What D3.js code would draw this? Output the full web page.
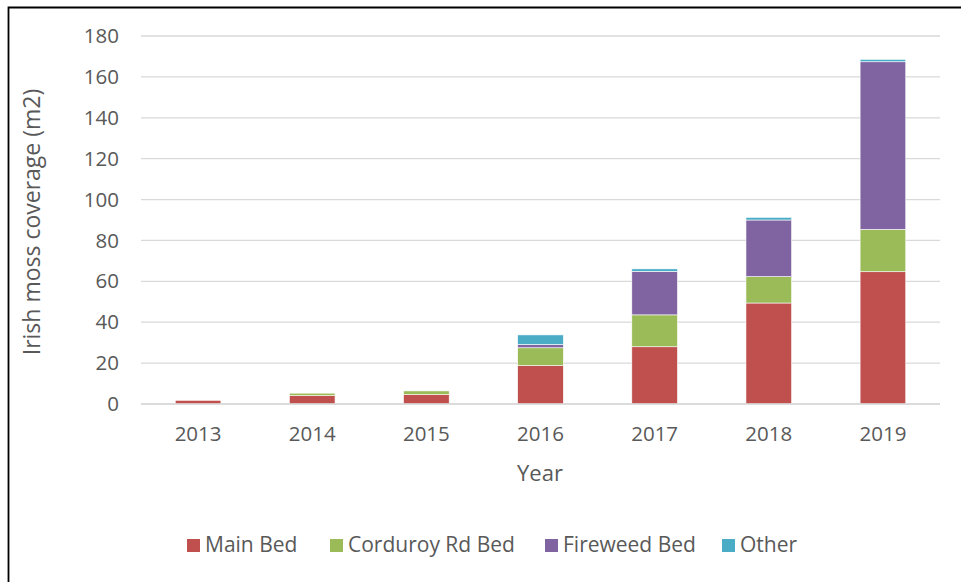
<!DOCTYPE html>
<html><head><meta charset="utf-8">
<script src="https://cdn.jsdelivr.net/npm/d3@7"></script>
<style>body{margin:0;background:#fff;} svg{display:block;}</style>
</head><body>
<script>
const years = ["2013","2014","2015","2016","2017","2018","2019"];
const seriesNames = ["Main Bed","Corduroy Rd Bed","Fireweed Bed","Other"];
const mainBed = [1.8, 4.1, 4.6, 18.8, 28.0, 49.4, 64.7];
const corduroy = [0, 1.2, 1.8, 8.7, 15.6, 12.9, 20.7];
const fireweed = [0, 0, 0, 1.6, 21.3, 27.7, 82.0];
const other = [0, 0, 0, 4.7, 1.2, 1.3, 1.2];
const yTicks = [0,20,40,60,80,100,120,140,160,180];
const colors = ["#C0504D","#9BBB59","#8064A2","#4BACC6"];

const W = 961, H = 582;
const svg = d3.select("body").append("svg").attr("width", W).attr("height", H);
const font = "'Open Sans', 'Liberation Sans', sans-serif";

// outer frame
svg.append("path").attr("d", `M8.5,${H} V7.5 H${W}`).attr("fill","none").attr("stroke","#000").attr("stroke-width",1.8);

const x = d3.scaleBand().domain(years).range([141, 940]).paddingInner(0.6).paddingOuter(0.3);
const y = d3.scaleLinear().domain([0,180]).range([404, 36]);

// gridlines
svg.append("g").selectAll("line").data(yTicks).join("line")
  .attr("x1",141).attr("x2",940)
  .attr("y1",d=>y(d)).attr("y2",d=>y(d))
  .attr("stroke","#D9D9D9").attr("stroke-width",1.3);

// y axis labels
const yAxis = d3.axisLeft(y).tickValues(yTicks).tickSize(0).tickPadding(0);
const gy = svg.append("g").attr("transform","translate(119,0)").call(yAxis);
gy.select(".domain").remove();
gy.selectAll("text").attr("font-family",font).attr("font-size",20.5).attr("fill","#595959");

const data = years.map((yr,i)=>({year:yr, "Main Bed":mainBed[i], "Corduroy Rd Bed":corduroy[i], "Fireweed Bed":fireweed[i], "Other":other[i]}));
const stack = d3.stack().keys(seriesNames)(data);

svg.append("g").selectAll("g").data(stack).join("g")
  .attr("fill",(d,i)=>colors[i])
  .selectAll("rect").data(d=>d).join("rect")
  .attr("x",d=>x(d.data.year))
  .attr("width",x.bandwidth())
  .attr("y",d=>y(d[1]))
  .attr("height",d=>Math.max(0,y(d[0])-y(d[1])))
  .attr("stroke","#fff").attr("stroke-width",0.6);

// baseline
svg.append("line").attr("x1",141).attr("x2",940).attr("y1",404).attr("y2",404)
  .attr("stroke","#D9D9D9").attr("stroke-width",1.3);

// x axis labels
const xAxis = d3.axisBottom(x).tickSize(0).tickPadding(0);
const gx = svg.append("g").attr("transform","translate(0,426)").call(xAxis);
gx.select(".domain").remove();
gx.selectAll("text").attr("font-family",font).attr("font-size",20.5).attr("fill","#595959").attr("dy","0.71em");

// titles
svg.append("text").attr("x",540).attr("y",481).attr("text-anchor","middle")
  .attr("font-family",font).attr("font-size",22).attr("fill","#595959").text("Year");
svg.append("text").attr("transform","translate(40,222) rotate(-90)").attr("text-anchor","middle")
  .attr("font-family",font).attr("font-size",23).attr("fill","#595959").text("Irish moss coverage (m2)");

// legend
const legX = [187, 330, 545, 722];
const leg = svg.append("g").selectAll("g").data(seriesNames).join("g")
  .attr("transform",(d,i)=>`translate(${legX[i]},545)`);
leg.append("rect").attr("x",0).attr("y",-6).attr("width",13).attr("height",13).attr("fill",(d,i)=>colors[i]);
leg.append("text").attr("x",18).attr("y",0).attr("dy","0.35em")
  .attr("font-family",font).attr("font-size",21).attr("fill","#595959").text(d=>d);
</script>
</body></html>
